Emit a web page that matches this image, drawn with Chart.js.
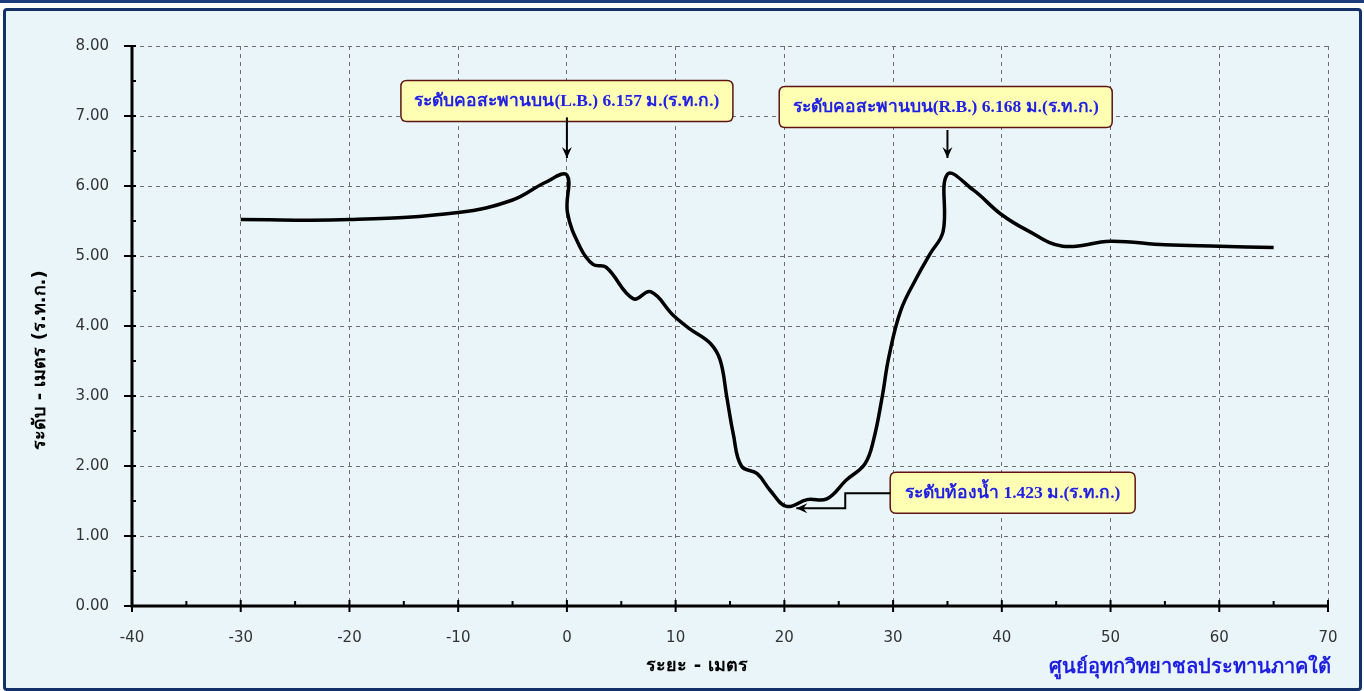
<!DOCTYPE html>
<html>
<head>
<meta charset="utf-8">
<script src="https://cdn.jsdelivr.net/npm/chart.js@4.4.0/dist/chart.umd.min.js"></script>
<style>
  html, body { margin: 0; padding: 0; background: #ffffff; }
  #topline { position: absolute; left: 0; top: 0; width: 1364px; height: 3px; background: #1b3a78; }
  #frame {
    position: absolute; left: 3px; top: 8px; width: 1353px; height: 677px;
    border: 3px solid #14306b; border-radius: 4px; background: #e9f5f9;
  }
  #wrap { position: absolute; left: 0; top: 0; width: 1364px; height: 691px; }
</style>
</head>
<body>
<div id="topline"></div>
<div id="frame"></div>
<div id="wrap"><canvas id="chart" width="1364" height="691"></canvas></div>
<script>
// ระยะ (ม.) และ ระดับ (ม.ร.ท.ก.) อ่านจากรูปตัดขวาง
const distances  = [-30, -20, -10, -5, -2, 0, 0.05, 1.2, 2.4, 3.6, 6.1, 7.7, 9.8, 11.3, 13.2, 14.1, 14.7, 15.3, 16.05, 17.5, 18.7, 20.2, 22.1, 23.9, 25.7, 27.4, 28.2, 29.0, 29.6, 30.7, 32.2, 33.4, 34.6, 35.0, 37.4, 39.9, 42.3, 45.6, 50.0, 55.0, 60.0, 65.0];
const elevations = [5.52, 5.52, 5.62, 5.80, 6.05, 6.157, 5.62, 5.13, 4.88, 4.84, 4.39, 4.49, 4.15, 3.96, 3.75, 3.51, 2.99, 2.46, 2.0, 1.89, 1.65, 1.423, 1.52, 1.53, 1.80, 2.03, 2.37, 2.99, 3.55, 4.22, 4.70, 5.03, 5.35, 6.168, 5.94, 5.60, 5.37, 5.14, 5.21, 5.16, 5.14, 5.12];

const xTicks = [-40, -30, -20, -10, 0, 10, 20, 30, 40, 50, 60, 70];
const yTicks = [0, 1, 2, 3, 4, 5, 6, 7, 8];

const calloutTexts = [
  'ระดับคอสะพานบน(L.B.) 6.157 ม.(ร.ท.ก.)',
  'ระดับคอสะพานบน(R.B.) 6.168 ม.(ร.ท.ก.)',
  'ระดับท้องน้ำ 1.423 ม.(ร.ท.ก.)'
];

const yTitle = 'ระดับ - เมตร (ร.ท.ก.)';
const xTitle = 'ระยะ - เมตร';
const footer = 'ศูนย์อุทกวิทยาชลประทานภาคใต้';

const points = distances.map((d, i) => ({ x: d, y: elevations[i] }));

// กล่องข้อความ (ตำแหน่งในหน่วยข้อมูล) และลูกศร
const callouts = [
  { text: calloutTexts[0], cx: 0,     cy: 7.215, w: 332, h: 41, arrow: [[0, 6.98], [0, 6.40]] },
  { text: calloutTexts[1], cx: 34.84, cy: 7.13,  w: 333, h: 41, arrow: [[35, 6.80], [35, 6.40]] },
  { text: calloutTexts[2], cx: 41.0,  cy: 1.617, w: 245, h: 41, arrow: [[29.73, 1.61], [25.6, 1.61], [25.6, 1.395], [21.1, 1.395]] }
];

function roundRect(ctx, x, y, w, h, r) {
  ctx.beginPath();
  ctx.moveTo(x + r, y);
  ctx.lineTo(x + w - r, y);
  ctx.quadraticCurveTo(x + w, y, x + w, y + r);
  ctx.lineTo(x + w, y + h - r);
  ctx.quadraticCurveTo(x + w, y + h, x + w - r, y + h);
  ctx.lineTo(x + r, y + h);
  ctx.quadraticCurveTo(x, y + h, x, y + h - r);
  ctx.lineTo(x, y + r);
  ctx.quadraticCurveTo(x, y, x + r, y);
  ctx.closePath();
}

const decorPlugin = {
  id: 'decor',
  afterDraw(chart) {
    const ctx = chart.ctx;
    const xs = chart.scales.x, ys = chart.scales.y;
    const area = chart.chartArea;
    ctx.save();

    // แกน
    ctx.strokeStyle = '#000';
    ctx.lineWidth = 3;
    ctx.beginPath();
    ctx.moveTo(area.left, area.top);
    ctx.lineTo(area.left, area.bottom);
    ctx.lineTo(area.right, area.bottom);
    ctx.stroke();

    // ขีดแกน Y
    ctx.lineWidth = 2;
    for (let v = 0; v <= 8; v += 0.5) {
      const py = ys.getPixelForValue(v);
      const major = Number.isInteger(v);
      ctx.beginPath();
      ctx.moveTo(area.left - (major ? 8 : 0), py);
      ctx.lineTo(area.left + 4, py);
      ctx.stroke();
    }
    // ขีดแกน X
    for (let v = -40; v <= 70; v += 5) {
      const px = xs.getPixelForValue(v);
      const major = v % 10 === 0;
      ctx.beginPath();
      ctx.moveTo(px, area.bottom + (major ? 6 : 0));
      ctx.lineTo(px, area.bottom - (major ? 6 : 5));
      ctx.stroke();
    }

    // ชื่อแกน
    ctx.fillStyle = '#000';
    ctx.font = 'bold 18px Tahoma, "DejaVu Sans", sans-serif';
    ctx.textAlign = 'center';
    ctx.textBaseline = 'middle';
    ctx.fillText(xTitle, 697, 666);
    ctx.save();
    ctx.translate(40, 360);
    ctx.rotate(-Math.PI / 2);
    ctx.fillText(yTitle, 0, 0);
    ctx.restore();

    // ชื่อหน่วยงาน
    ctx.fillStyle = '#1f1fe0';
    ctx.font = 'bold 20px "Liberation Serif", serif';
    ctx.textAlign = 'right';
    ctx.fillText(footer, 1331, 668);

    // กล่องข้อความ + ลูกศร
    callouts.forEach(c => {
      const cx = xs.getPixelForValue(c.cx), cy = ys.getPixelForValue(c.cy);
      ctx.fillStyle = '#ffffb3';
      ctx.strokeStyle = '#5e1414';
      ctx.lineWidth = 1.5;
      roundRect(ctx, cx - c.w / 2, cy - c.h / 2, c.w, c.h, 6);
      ctx.fill();
      ctx.stroke();
      ctx.fillStyle = '#2020e6';
      ctx.font = 'bold 17.5px "Liberation Serif", serif';
      ctx.textAlign = 'center';
      ctx.fillText(c.text, cx, cy + 1);

      const pts = c.arrow.map(p => [xs.getPixelForValue(p[0]), ys.getPixelForValue(p[1])]);
      ctx.strokeStyle = '#000';
      ctx.lineWidth = 2;
      ctx.beginPath();
      ctx.moveTo(pts[0][0], pts[0][1]);
      pts.slice(1).forEach(p => ctx.lineTo(p[0], p[1]));
      ctx.stroke();
      const a = pts[pts.length - 2], b = pts[pts.length - 1];
      const ang = Math.atan2(b[1] - a[1], b[0] - a[0]);
      ctx.fillStyle = '#000';
      ctx.beginPath();
      ctx.moveTo(b[0], b[1]);
      ctx.lineTo(b[0] - 11 * Math.cos(ang) + 5 * Math.sin(ang), b[1] - 11 * Math.sin(ang) - 5 * Math.cos(ang));
      ctx.lineTo(b[0] - 7 * Math.cos(ang), b[1] - 7 * Math.sin(ang));
      ctx.lineTo(b[0] - 11 * Math.cos(ang) - 5 * Math.sin(ang), b[1] - 11 * Math.sin(ang) + 5 * Math.cos(ang));
      ctx.closePath();
      ctx.fill();
    });
    ctx.restore();
  }
};

new Chart(document.getElementById('chart').getContext('2d'), {
  type: 'scatter',
  data: {
    datasets: [{
      data: points,
      showLine: true,
      borderColor: '#000',
      borderWidth: 3.5,
      pointRadius: 0,
      tension: 0.4,
      fill: false
    }]
  },
  options: {
    responsive: false,
    animation: false,
    layout: { padding: { left: 0, top: 46, right: 36, bottom: 0 } },
    plugins: { legend: { display: false }, tooltip: { enabled: false } },
    scales: {
      x: {
        type: 'linear', min: -40, max: 70,
        afterBuildTicks: s => { s.ticks = xTicks.map(v => ({ value: v })); },
        afterFit: s => { s.height = 85; },
        grid: { color: '#6e6e6e', lineWidth: 1, drawTicks: false },
        border: { display: false, dash: [4, 4] },
        ticks: { color: '#333', font: { family: '"DejaVu Sans", sans-serif', size: 15 }, padding: 23, maxRotation: 0 }
      },
      y: {
        type: 'linear', min: 0, max: 8,
        afterBuildTicks: s => { s.ticks = yTicks.map(v => ({ value: v })); },
        afterFit: s => { s.width = 132; },
        grid: { color: '#6e6e6e', lineWidth: 1, drawTicks: false },
        border: { display: false, dash: [4, 4] },
        ticks: { color: '#333', font: { family: '"DejaVu Sans", sans-serif', size: 15 }, padding: 23, callback: v => v.toFixed(2) }
      }
    }
  },
  plugins: [decorPlugin]
});
</script>
</body>
</html>
